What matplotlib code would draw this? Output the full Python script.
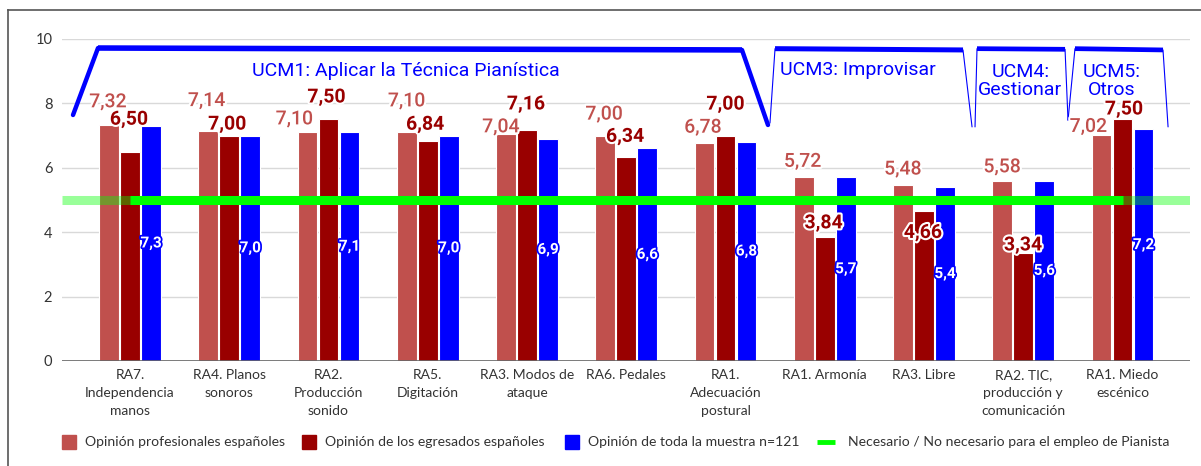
import matplotlib
matplotlib.use("Agg")
import matplotlib.pyplot as plt
import matplotlib.patheffects as pe
from matplotlib.patches import Rectangle
from matplotlib.lines import Line2D
import numpy as np

# ---- data -------------------------------------------------------------
categories = [
    "RA7.\nIndependencia\nmanos",
    "RA4. Planos\nsonoros",
    "RA2.\nProducción\nsonido",
    "RA5.\nDigitación",
    "RA3. Modos de\nataque",
    "RA6. Pedales",
    "RA1.\nAdecuación\npostural",
    "RA1. Armonía",
    "RA3. Libre",
    "RA2. TIC,\nproducción y\ncomunicación",
    "RA1. Miedo\nescénico",
]
profesionales = [7.32, 7.14, 7.10, 7.10, 7.04, 7.00, 6.78, 5.72, 5.48, 5.58, 7.02]
egresados = [6.50, 7.00, 7.50, 6.84, 7.16, 6.34, 7.00, 3.84, 4.66, 3.34, 7.50]
muestra = [7.3, 7.0, 7.1, 7.0, 6.9, 6.6, 6.8, 5.7, 5.4, 5.6, 7.2]
umbral = 5.0

series_names = [
    "Opinión profesionales españoles",
    "Opinión de los egresados españoles",
    "Opinión de toda la muestra n=121",
    "Necesario / No necesario para el empleo de Pianista",
]
bloques = [
    "UCM1: Aplicar la Técnica Pianística",
    "UCM3: Improvisar",
    "UCM4:\nGestionar",
    "UCM5:\nOtros",
]
y_ticks = [0, 2, 4, 6, 8, 10]

# ---- styling -----------------------------------------------------------
C_PROF = "#C0504D"
C_EGR = "#990000"
C_ALL = "#0000FF"
C_GREEN = "#00FF00"
TXT = "#333333"
NUM_FONT = ["Roboto", "DejaVu Sans"]
LBL_FONT = ["Lato", "DejaVu Sans"]

# label nudges (pixels): (dx, dy above bar top)
prof_off = [(-1, 23), (-1.5, 30), (-13, 13), (0, 31), (-5, 7), (-1, 21),
            (-1.5, 15), (-1, 15), (0, 15), (0, 14), (-13, 8)]
egr_off = [(-1, 32), (-2, 11), (-2, 22), (-2.5, 16), (-1, 26), (-1, 20),
           (0, 31), (-1, 14), (-1, -22), (0, 8), (1.5, 10)]

W, H = 1201, 466
fig = plt.figure(figsize=(W / 100, H / 100), dpi=100)
ax = fig.add_axes([62 / W, 1 - 361 / H, (1190 - 62) / W, (361 - 39) / H])

x = np.arange(len(categories))
step = 0.212
bw = 0.2
ax.bar(x - step, profesionales, bw, color=C_PROF, edgecolor="white", linewidth=0.8, zorder=2)
ax.bar(x, egresados, bw, color=C_EGR, edgecolor="white", linewidth=0.8, zorder=2)
ax.bar(x + step, muestra, bw, color=C_ALL, edgecolor="white", linewidth=0.8, zorder=2)

ax.set_xlim(-0.685, 10.68)
ax.set_ylim(0, 10)

# threshold line: faint across the full width, solid between first and last groups
ax.axhline(umbral, color=C_GREEN, alpha=0.4, lw=6.5, solid_capstyle="butt", zorder=3)
ax.plot(x, [umbral] * len(x), color=C_GREEN, lw=6.5, solid_capstyle="butt", zorder=4)

# grid and axes
ax.set_yticks(y_ticks)
ax.yaxis.grid(True, color="#d9d9d9", lw=1.0, zorder=0)
ax.set_axisbelow(True)
for s in ax.spines.values():
    s.set_visible(False)
ax.axhline(0, color="#666666", lw=1.2, zorder=5)
ax.tick_params(axis="y", length=0, pad=7, labelsize=10.5, labelcolor=TXT)
ax.tick_params(axis="x", length=0, pad=6, labelsize=10, labelcolor=TXT)
ax.set_xticks(x)
ax.set_xticklabels(categories, linespacing=1.6)
for t in ax.get_xticklabels() + ax.get_yticklabels():
    t.set_family(LBL_FONT)

# value labels
halo_w = [pe.withStroke(linewidth=3, foreground="white")]
for i in range(len(x)):
    dx, dy = prof_off[i]
    ax.annotate(f"{profesionales[i]:.2f}".replace(".", ","), (x[i] - step, profesionales[i]),
                xytext=(dx, dy), textcoords="offset pixels", ha="center", va="center",
                fontsize=14, color=C_PROF, fontweight="medium", family=NUM_FONT,
                path_effects=halo_w, zorder=6)
    dx, dy = egr_off[i]
    ax.annotate(f"{egresados[i]:.2f}".replace(".", ","), (x[i], egresados[i]),
                xytext=(dx, dy), textcoords="offset pixels", ha="center", va="center",
                fontsize=14, color=C_EGR, fontweight="bold", family=NUM_FONT,
                path_effects=halo_w, zorder=7)
    ax.text(x[i] + step, muestra[i] / 2, f"{muestra[i]:.1f}".replace(".", ","),
            ha="center", va="center", fontsize=11, color="white", fontweight="bold",
            family=NUM_FONT, path_effects=[pe.withStroke(linewidth=2.5, foreground=C_ALL)], zorder=6)

# competence-unit brackets
def bracket(xs, ys, side_lw, top_lw):
    ax.plot(xs[:2], ys[:2], color=C_ALL, lw=side_lw, clip_on=False, zorder=5, solid_capstyle="round")
    ax.plot(xs[1:3], ys[1:3], color=C_ALL, lw=top_lw, clip_on=False, zorder=5, solid_capstyle="butt")
    ax.plot(xs[2:], ys[2:], color=C_ALL, lw=side_lw, clip_on=False, zorder=5, solid_capstyle="round")

bracket([-0.574, -0.322, 6.166, 6.428], [7.64, 9.72, 9.66, 7.33], 3.2, 4.0)
bracket([6.448, 6.499, 8.393, 8.484], [7.39, 9.70, 9.66, 7.27], 0.8, 3.6)
bracket([8.514, 8.534, 9.421, 9.451], [7.27, 9.70, 9.68, 7.48], 0.8, 3.4)
bracket([9.451, 9.521, 10.408, 10.459], [7.48, 9.70, 9.66, 7.27], 0.8, 3.4)

blk_kw = dict(color=C_ALL, fontsize=14, family=["Roboto", "DejaVu Sans"], ha="center", va="center",
              clip_on=False, zorder=6, linespacing=1.0)
ax.text(2.78, 9.0, bloques[0], **blk_kw)
ax.text(7.33, 9.04, bloques[1], **blk_kw)
ax.text(8.97, 8.71, bloques[2], **blk_kw)
ax.text(9.89, 8.70, bloques[3], **blk_kw)

# legend row
ly = 1 - 442 / H
leg_items = [(62, 85, C_PROF), (302, 325, C_EGR), (565, 588, C_ALL)]
for (px, tx, col), name in zip(leg_items, series_names[:3]):
    fig.patches.append(Rectangle((px / W, ly - 7 / H), 14 / W, 14 / H, transform=fig.transFigure,
                                 color=col, zorder=3))
    fig.text(tx / W, ly, name, ha="left", va="center", fontsize=10.1, color=TXT, family=LBL_FONT)
fig.lines.append(Line2D([817 / W, 835 / W], [ly, ly], transform=fig.transFigure,
                        color=C_GREEN, lw=3.5, solid_capstyle="butt"))
fig.text(848 / W, ly, series_names[3], ha="left", va="center", fontsize=10.1, color=TXT, family=LBL_FONT)

# outer frame (top and left edges)
fig.lines.append(Line2D([8 / W, 1], [1 - 10 / H, 1 - 10 / H], transform=fig.transFigure, color="#555555", lw=1.2))
fig.lines.append(Line2D([8 / W, 8 / W], [0, 1 - 10 / H], transform=fig.transFigure, color="#555555", lw=1.2))

fig.savefig("out.png", dpi=100, facecolor="white")
